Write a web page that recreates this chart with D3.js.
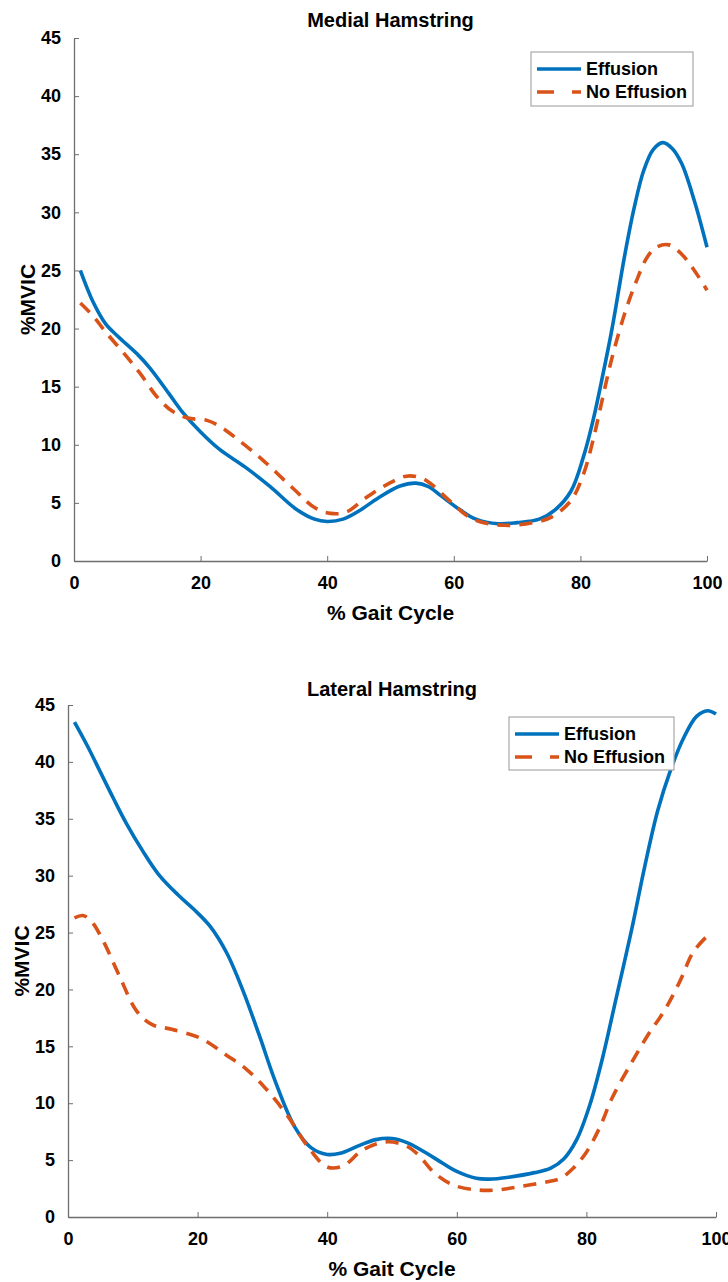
<!DOCTYPE html>
<html><head><meta charset="utf-8">
<script src="https://cdn.jsdelivr.net/npm/d3@7"></script>
<style>
body{margin:0;background:#fff}
svg{display:block}
text{font-family:"Liberation Sans",Arial,Helvetica,sans-serif;font-weight:bold;fill:#000}
</style>
</head><body>
<svg id="c" width="728" height="1282"></svg>
<script>
// ---------- data ----------
const xTicks = [0, 20, 40, 60, 80, 100];
const yTicks = [0, 5, 10, 15, 20, 25, 30, 35, 40, 45];
const seriesNames = ["Effusion", "No Effusion"];
const panelTitles = ["Medial Hamstring", "Lateral Hamstring"];
const xLabel = "% Gait Cycle";
const yLabel = "%MVIC";

const medialEffX = [1, 3, 5, 7, 10, 12, 15, 17, 20, 23, 27, 31, 35, 38, 40, 42.5, 45, 48, 51.5, 54, 56, 58, 61, 63.5, 67, 70, 73.5, 76, 78.5, 80.5, 82, 83.5, 85, 87, 88.5, 90, 91.5, 93, 94.5, 96, 98, 100];
const medialEffY = [25, 22.3, 20.4, 19.3, 17.8, 16.6, 14.4, 12.9, 11.1, 9.6, 8.1, 6.4, 4.5, 3.6, 3.4, 3.6, 4.3, 5.4, 6.45, 6.7, 6.4, 5.6, 4.4, 3.6, 3.2, 3.3, 3.6, 4.4, 6.0, 9.0, 12.1, 15.9, 20.0, 26.3, 30.4, 33.6, 35.4, 36.0, 35.5, 34.2, 31.0, 27.0];

const medialNoX = [1, 3, 5, 8, 10.5, 13, 15.5, 18, 21, 23, 26, 30, 34.5, 38, 40.5, 43, 46, 49.5, 52.5, 54.5, 56, 59.5, 63, 68, 73, 75.5, 78.5, 80.5, 82, 83.5, 85, 87, 89, 90.5, 92, 94, 96, 98, 100];
const medialNoY = [22.2, 21.1, 19.7, 17.8, 16.1, 14.2, 12.9, 12.3, 12.1, 11.6, 10.4, 8.6, 6.3, 4.6, 4.1, 4.2, 5.4, 6.6, 7.3, 7.2, 6.8, 5.1, 3.6, 3.07, 3.35, 3.8, 5.2, 7.5, 10.4, 14.0, 17.5, 21.3, 24.3, 26.1, 27.0, 27.2, 26.4, 25.0, 23.3];

const lateralEffX = [1, 3, 5, 7, 9, 11.5, 14, 17, 19.5, 22, 24.5, 27, 29.5, 32, 35, 37.5, 40, 42, 45, 47.5, 50, 52.5, 56.5, 60, 63, 65, 68, 72, 74.5, 76.5, 78.5, 80.5, 82.5, 84.5, 87, 89, 91, 93, 95, 97, 98.7, 100];
const lateralEffY = [43.5, 41.4, 39.1, 36.8, 34.6, 32.2, 30.1, 28.3, 27.0, 25.5, 23.2, 19.9, 16.0, 11.9, 7.9, 6.1, 5.5, 5.6, 6.3, 6.8, 6.9, 6.5, 5.2, 4.0, 3.4, 3.33, 3.5, 3.9, 4.3, 5.1, 6.8, 9.8, 14.0, 19.0, 25.3, 30.8, 35.7, 39.3, 42.1, 44.0, 44.5, 44.2];

const lateralNoX = [1, 2.3, 3.6, 5.4, 8, 10.6, 13, 16, 20.5, 24.5, 27.5, 30.5, 34, 37, 40, 42.5, 45.5, 49, 52, 54, 56.5, 59.5, 63.5, 66.5, 70, 74, 76, 78, 80, 82, 84, 87, 89.5, 92, 94.5, 96.5, 99];
const lateralNoY = [26.3, 26.5, 26.0, 24.3, 21.1, 18.1, 16.9, 16.5, 15.7, 14.2, 13.0, 11.3, 8.8, 6.2, 4.4, 4.5, 5.9, 6.6, 6.3, 5.5, 3.9, 2.8, 2.36, 2.4, 2.7, 3.1, 3.4, 4.3, 5.7, 7.8, 10.5, 13.6, 16.0, 18.1, 20.8, 23.3, 24.9];

// ---------- layout ----------
const panels = [
  {title: panelTitles[0], left: 74, right: 707, top: 38, bottom: 561, titleY: 27, xlabY: 620, ylabX: 27,
   legend: {x: 531, y: 52, w: 162, h: 54},
   series: [[medialEffX, medialEffY], [medialNoX, medialNoY]]},
  {title: panelTitles[1], left: 68, right: 716, top: 705, bottom: 1217, titleY: 696, xlabY: 1276, ylabX: 21,
   legend: {x: 509, y: 717, w: 165, h: 53},
   series: [[lateralEffX, lateralEffY], [lateralNoX, lateralNoY]]}
];
const colors = ["#0072BD", "#D95319"];
const dashes = [null, "13,9"];
const axisColor = "#6e6e6e";

const svg = d3.select("#c");

panels.forEach(p => {
  const x = d3.scaleLinear().domain([0, 100]).range([p.left, p.right]);
  const y = d3.scaleLinear().domain([0, 45]).range([p.bottom, p.top]);
  const g = svg.append("g");

  // axes
  const xa = g.append("g").attr("transform", `translate(0,${p.bottom})`)
    .call(d3.axisBottom(x).tickValues(xTicks).tickSizeInner(-5).tickSizeOuter(0).tickPadding(15));
  const ya = g.append("g").attr("transform", `translate(${p.left},0)`)
    .call(d3.axisLeft(y).tickValues(yTicks).tickSizeInner(-5).tickSizeOuter(0).tickPadding(13));
  [xa, ya].forEach(a => {
    a.select(".domain").attr("stroke", axisColor).attr("stroke-width", 1.3);
    a.selectAll(".tick line").attr("stroke", axisColor).attr("stroke-width", 1);
    a.selectAll(".tick text").attr("font-size", 18).attr("fill", "#000")
      .style("font-family", '"Liberation Sans",Arial,sans-serif').style("font-weight", "bold");
  });

  // lines
  const line = d3.line().x(d => x(d[0])).y(d => y(d[1])).curve(d3.curveCatmullRom.alpha(0.5));
  p.series.forEach((s, i) => {
    const pts = s[0].map((v, k) => [v, s[1][k]]);
    g.append("path").datum(pts).attr("d", line)
      .attr("fill", "none").attr("stroke", colors[i]).attr("stroke-width", 3.6)
      .attr("stroke-dasharray", dashes[i]);
  });

  // title and labels
  const cx = (p.left + p.right) / 2;
  g.append("text").attr("x", cx).attr("y", p.titleY).attr("text-anchor", "middle")
    .attr("font-size", 20).text(p.title);
  g.append("text").attr("x", cx).attr("y", p.xlabY).attr("text-anchor", "middle")
    .attr("font-size", 21).text(xLabel);
  g.append("text").attr("transform", `translate(${p.ylabX},${(p.top + p.bottom) / 2}) rotate(-90)`)
    .attr("text-anchor", "middle").attr("dy", "0.36em").attr("font-size", 21).text(yLabel);

  // legend
  const L = p.legend;
  const lg = g.append("g").attr("transform", `translate(${L.x},${L.y})`);
  lg.append("rect").attr("width", L.w).attr("height", L.h).attr("fill", "#fff")
    .attr("stroke", "#a8a8a8").attr("stroke-width", 1.2);
  seriesNames.forEach((n, i) => {
    const ry = 17 + i * 23;
    lg.append("line").attr("x1", 6).attr("x2", 50).attr("y1", ry).attr("y2", ry)
      .attr("stroke", colors[i]).attr("stroke-width", 3.6)
      .attr("stroke-dasharray", i === 1 ? "17,18,9" : null);
    lg.append("text").attr("x", 55).attr("y", ry).attr("dy", "0.36em")
      .attr("font-size", 18).text(n);
  });
});
</script>
</body></html>
